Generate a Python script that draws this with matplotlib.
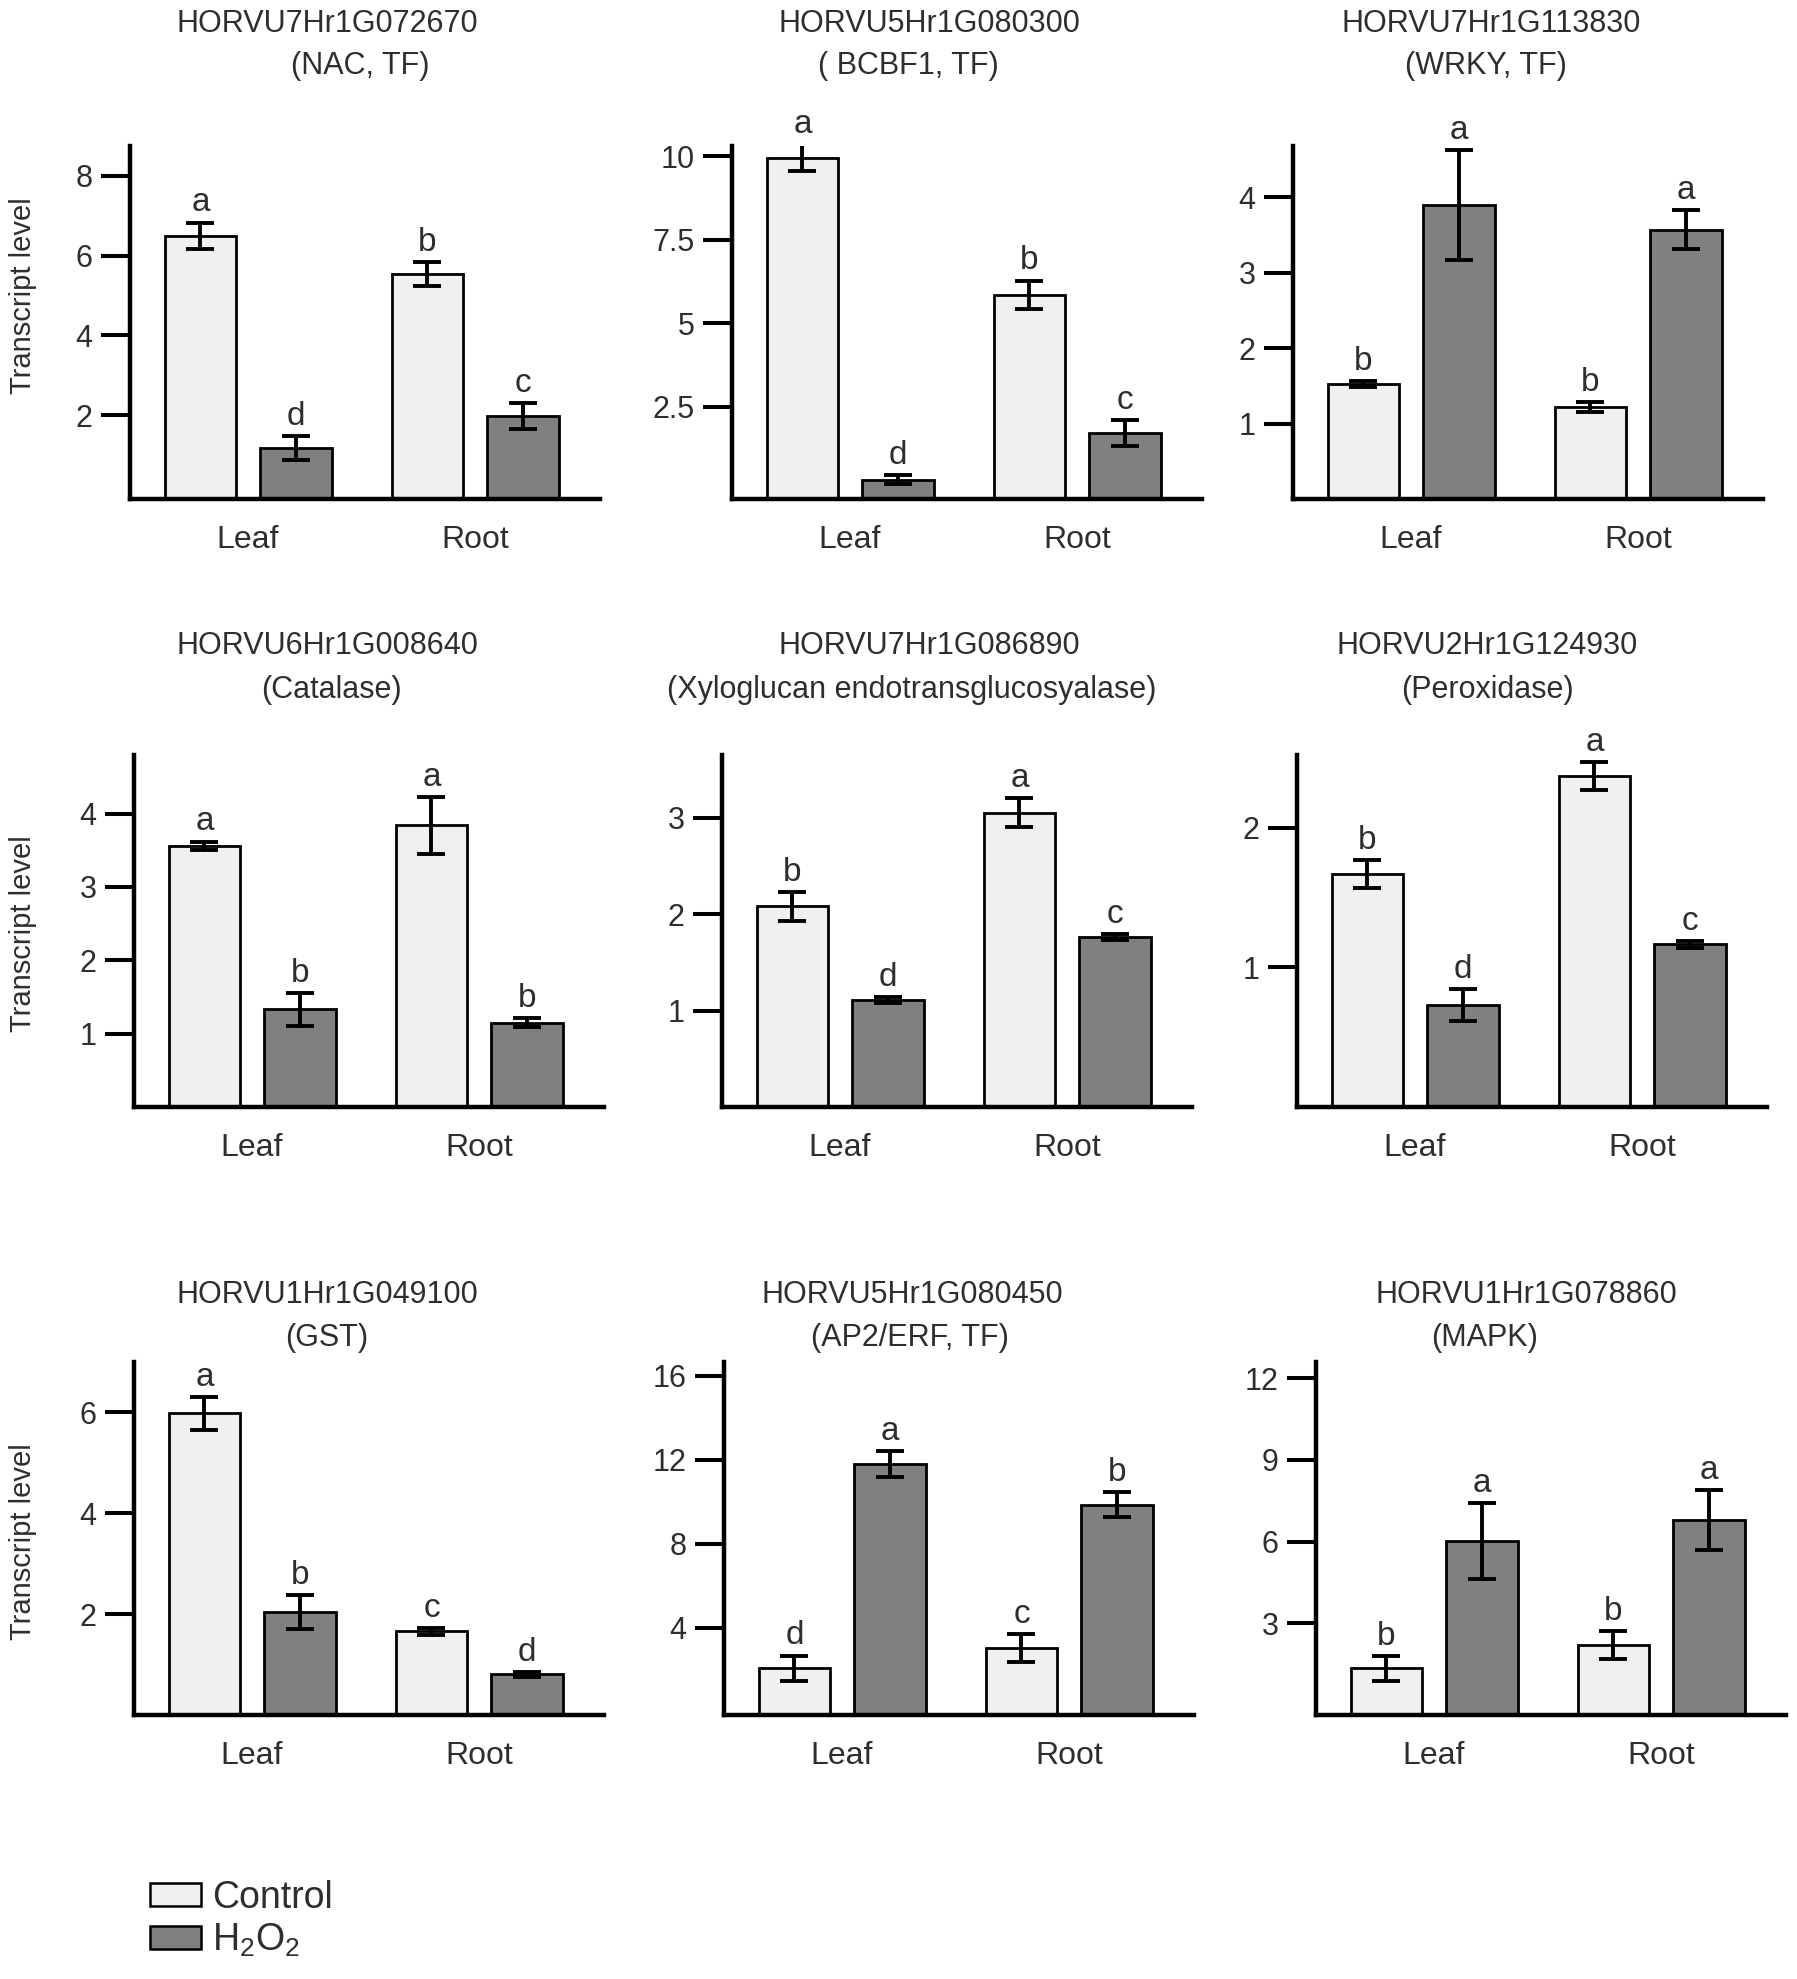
import matplotlib
matplotlib.use("Agg")
import matplotlib.pyplot as plt
from matplotlib.patches import Patch

plt.rcParams['font.family'] = ['Liberation Sans', 'DejaVu Sans']
plt.rcParams['mathtext.fontset'] = 'custom'
plt.rcParams['mathtext.rm'] = 'Liberation Sans'
plt.rcParams['mathtext.it'] = 'Liberation Sans'

TXT = '#2e2e2e'

groups = ['Leaf', 'Root']

genes = ['HORVU7Hr1G072670', 'HORVU5Hr1G080300', 'HORVU7Hr1G113830',
         'HORVU6Hr1G008640', 'HORVU7Hr1G086890', 'HORVU2Hr1G124930',
         'HORVU1Hr1G049100', 'HORVU5Hr1G080450', 'HORVU1Hr1G078860']
descs = ['(NAC, TF)', '( BCBF1, TF)', '(WRKY, TF)',
         '(Catalase)', '(Xyloglucan endotransglucosyalase)', '(Peroxidase)',
         '(GST)', '(AP2/ERF, TF)', '(MAPK)']

# means / errors (Leaf, Root)
ctrl_mean = [[6.5, 5.55], [9.95, 5.85], [1.52, 1.22],
             [3.56, 3.84], [2.08, 3.05], [1.67, 2.37],
             [5.98, 1.66], [2.08, 3.04], [1.34, 2.2]]
ctrl_err = [[0.33, 0.3], [0.4, 0.43], [0.04, 0.06],
            [0.06, 0.39], [0.15, 0.15], [0.1, 0.1],
            [0.33, 0.07], [0.6, 0.66], [0.46, 0.51]]
h2o2_mean = [[1.18, 1.98], [0.33, 1.72], [3.9, 3.57],
             [1.33, 1.15], [1.11, 1.76], [0.73, 1.165],
             [2.04, 0.81], [11.8, 9.86], [6.02, 6.8]]
h2o2_err = [[0.3, 0.33], [0.13, 0.38], [0.73, 0.26],
            [0.22, 0.06], [0.03, 0.03], [0.115, 0.025],
            [0.33, 0.05], [0.6, 0.6], [1.41, 1.1]]
ctrl_letters = [['a', 'b'], ['a', 'b'], ['b', 'b'],
                ['a', 'a'], ['b', 'a'], ['b', 'a'],
                ['a', 'c'], ['d', 'c'], ['b', 'b']]
h2o2_letters = [['d', 'c'], ['d', 'c'], ['a', 'a'],
                ['b', 'b'], ['d', 'c'], ['d', 'c'],
                ['b', 'd'], ['a', 'b'], ['a', 'a']]

yticks = [[2, 4, 6, 8], [2.5, 5, 7.5, 10], [1, 2, 3, 4],
          [1, 2, 3, 4], [1, 2, 3], [1, 2],
          [2, 4, 6], [4, 8, 12, 16], [3, 6, 9, 12]]
ylims = [(-0.1, 8.75), (-0.25, 10.3), (0, 4.68),
         (0, 4.8), (0, 3.65), (0, 2.52),
         (0, 7.0), (-0.15, 16.65), (-0.37, 12.6)]

# layout in pixels
W, H = 1797, 1979
lefts = [130, 732, 1293, 134, 722, 1297, 134, 724, 1316]
row_bot = [499, 1107, 1715]
row_top = [146, 755, 1362]
ax_w = 470
title1_xy = [(327, 24), (929, 24), (1491, 24),
             (327, 646), (929, 646), (1487, 646),
             (327, 1295), (912, 1295), (1526, 1295)]
title2_xy = [(360, 66), (908, 66), (1486, 66),
             (331, 690), (912, 690), (1487, 690),
             (327, 1338), (910, 1338), (1485, 1338)]
ylabel_y = [296, 934, 1542]

fig = plt.figure(figsize=(W / 100, H / 100), dpi=100)

off = 0.21
bw = 0.316
x = [0, 1]

for i in range(9):
    r = i // 3
    b, t = row_bot[r], row_top[r]
    ax = fig.add_axes([lefts[i] / W, 1 - b / H, ax_w / W, (b - t) / H])
    y0, y1 = ylims[i]
    xc = [g - off for g in x]
    xh = [g + off for g in x]
    ax.bar(xc, [v - y0 for v in ctrl_mean[i]], bw, bottom=y0,
           color='#f0f0f0', edgecolor='black', linewidth=2.0, zorder=2)
    ax.bar(xh, [v - y0 for v in h2o2_mean[i]], bw, bottom=y0,
           color='#808080', edgecolor='black', linewidth=2.0, zorder=2)
    ax.errorbar(xc, ctrl_mean[i], yerr=ctrl_err[i], fmt='none', ecolor='black',
                elinewidth=2.8, capsize=10, capthick=2.8, zorder=3)
    ax.errorbar(xh, h2o2_mean[i], yerr=h2o2_err[i], fmt='none', ecolor='black',
                elinewidth=2.8, capsize=10, capthick=2.8, zorder=3)
    for k in range(2):
        ax.annotate(ctrl_letters[i][k], (xc[k], ctrl_mean[i][k] + ctrl_err[i][k]),
                    xytext=(0, 8), textcoords='offset points', ha='center',
                    va='baseline', fontsize=24, color=TXT, annotation_clip=False)
        ax.annotate(h2o2_letters[i][k], (xh[k], h2o2_mean[i][k] + h2o2_err[i][k]),
                    xytext=(0, 8), textcoords='offset points', ha='center',
                    va='baseline', fontsize=24, color=TXT, annotation_clip=False)

    ax.set_xlim(-0.52, 1.55)
    ax.set_ylim(y0, y1)
    ax.set_yticks(yticks[i])
    ax.set_yticklabels(['{:g}'.format(v) for v in yticks[i]])
    ax.set_xticks(x)
    ax.set_xticklabels(groups)
    for s in ['top', 'right']:
        ax.spines[s].set_visible(False)
    for s in ['left', 'bottom']:
        ax.spines[s].set_linewidth(3.2)
    ax.tick_params(axis='y', direction='out', length=21, width=2.9, pad=6,
                   labelsize=22, labelcolor=TXT)
    ax.tick_params(axis='x', length=0, pad=19, labelsize=23, labelcolor=TXT)

    fig.text(title1_xy[i][0] / W, 1 - title1_xy[i][1] / H, genes[i],
             ha='center', va='center', fontsize=22, color=TXT)
    fig.text(title2_xy[i][0] / W, 1 - title2_xy[i][1] / H, descs[i],
             ha='center', va='center', fontsize=22, color=TXT)

for r in range(3):
    fig.text(23 / W, 1 - ylabel_y[r] / H, 'Transcript level', rotation=90,
             ha='center', va='center', fontsize=21, color=TXT)

handles = [Patch(facecolor='#f0f0f0', edgecolor='black', linewidth=1.8),
           Patch(facecolor='#808080', edgecolor='black', linewidth=1.8)]
fig.legend(handles, ['Control', r'H$_2$O$_2$'], loc='upper left',
           bbox_to_anchor=(150 / W, 1 - 1880 / H), frameon=False,
           fontsize=27, handlelength=1.35, handleheight=0.55,
           handletextpad=0.3, labelspacing=0.15, borderpad=0,
           borderaxespad=0, labelcolor=TXT)

fig.savefig('out.png', dpi=100)
